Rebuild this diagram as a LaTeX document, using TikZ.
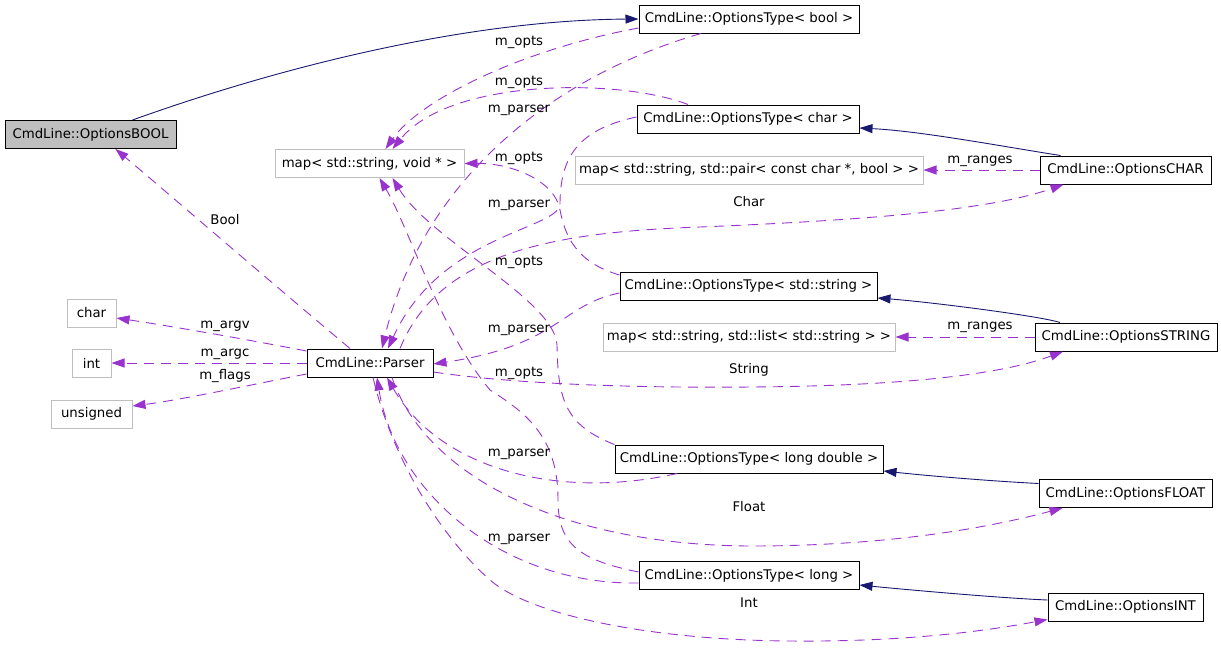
\documentclass[tikz,border=0pt]{standalone}
\usepackage{fontspec}
\setmainfont{DejaVu Sans}
\usetikzlibrary{arrows.meta,positioning}
\definecolor{inhnavy}{RGB}{25,25,112}
\definecolor{useplum}{RGB}{154,50,205}
\definecolor{extgray}{RGB}{191,191,191}
\newcommand{\dxfont}{\fontsize{13.3pt}{16pt}\selectfont}
\tikzset{
  cls/.style={draw=black,line width=1pt,inner sep=0pt,minimum height=28pt,font=\dxfont},
  ext/.style={cls,draw=extgray},
  lbl/.style={inner sep=0pt,font=\dxfont},
  inherit/.style={draw=inhnavy,line width=0.9pt,-{Triangle[length=13pt,width=9pt]}},
  uses/.style={draw=useplum,line width=0.9pt,dash pattern=on 10pt off 7pt,-{Triangle[length=13pt,width=9pt]}}
}

\begin{document}
\begin{tikzpicture}[x=1pt,y=-1pt]
\useasboundingbox (0,0) rectangle (1221,649);
\node[cls,fill=extgray,minimum width=171pt] (optbool) at (90.5,134.5) {CmdLine::OptionsBOOL};
\node[cls,minimum width=220pt] (typebool) at (749,19) {CmdLine::OptionsType< bool >};
\node[ext,minimum width=189pt] (mapvoid) at (369.5,163.5) {map< std::string, void * >};
\node[cls,minimum width=222pt] (typechar) at (748,119) {CmdLine::OptionsType< char >};
\node[ext,minimum width=348pt] (mappair) at (749,170) {map< std::string, std::pair< const char *, bool > >};
\node[cls,minimum width=171pt] (optchar) at (1125.5,170) {CmdLine::OptionsCHAR};
\node[cls,minimum width=257pt] (typestr) at (748.5,286) {CmdLine::OptionsType< std::string >};
\node[ext,minimum width=292pt] (maplist) at (749,337) {map< std::string, std::list< std::string > >};
\node[cls,minimum width=182pt] (optstr) at (1126,337) {CmdLine::OptionsSTRING};
\node[ext,minimum width=49pt] (tchar) at (91.5,313) {char};
\node[ext,minimum width=39pt] (tint) at (91.5,363) {int};
\node[ext,minimum width=81pt] (tuns) at (91.5,414) {unsigned};
\node[cls,minimum width=126pt] (parser) at (370,363) {CmdLine::Parser};
\node[cls,minimum width=268pt] (typeld) at (749,459) {CmdLine::OptionsType< long double >};
\node[cls,minimum width=173pt] (optfloat) at (1125.5,493.5) {CmdLine::OptionsFLOAT};
\node[cls,minimum width=220pt] (typelong) at (749,575.5) {CmdLine::OptionsType< long >};
\node[cls,minimum width=155pt] (optint) at (1125.5,607) {CmdLine::OptionsINT};

\draw[inherit] ([xshift=42pt]optbool.north) .. controls (300,60) and (480,20) .. (typebool.west);
\draw[inherit] ([xshift=-65pt]optchar.north) .. controls (1000,146) and (920,131) .. ([yshift=-9pt]typechar.east);
\draw[inherit] ([xshift=-66pt]optstr.north) .. controls (1040,316) and (930,302) .. ([yshift=-12pt]typestr.east);
\draw[inherit] ([yshift=10pt]optfloat.west) .. controls (990,481) and (930,476) .. ([yshift=-12pt]typeld.east);
\draw[inherit] ([yshift=7pt]optint.west) .. controls (1000,598) and (910,590) .. ([yshift=-9.5pt]typelong.east);

\draw[uses] ([xshift=-20pt]parser.north) .. controls (280,290) and (170,195) .. ([xshift=25pt]optbool.south);
\draw[uses] ([yshift=12pt]parser.west) .. controls (250,340) and (170,326) .. ([yshift=-5pt]tchar.east);
\draw[uses] (parser.west) -- (tint.east);
\draw[uses] ([yshift=-11pt]parser.west) .. controls (250,385) and (180,400) .. ([yshift=8pt]tuns.east);
\draw[uses] (optchar.west) -- (mappair.east);
\draw[uses] (optstr.west) -- (maplist.east);

\draw[uses] ([yshift=-9pt]typebool.west) .. controls (520,50) and (420,100) .. ([xshift=16pt]mapvoid.north);
\draw[uses] ([xshift=-60pt]typechar.north) .. controls (620,78) and (450,78) .. ([xshift=23pt]mapvoid.north);
\draw[uses] ([yshift=11pt]typestr.west) .. controls (575,262) and (565,235) .. (560,210) .. controls (555,180) and (510,163) .. (mapvoid.east);
\draw[uses] (typeld.north west) .. controls (565,425) and (558,400) .. (557,345) .. controls (555,300) and (430,240) .. ([xshift=23pt]mapvoid.south);
\draw[uses] ([yshift=3.5pt]typelong.west) .. controls (580,560) and (558,545) .. (558,500) .. controls (558,440) and (530,415) .. (490,390) .. controls (440,330) and (410,230) .. ([xshift=10pt]mapvoid.south);

\draw[uses] ([xshift=-48pt]typebool.south) .. controls (540,80) and (420,190) .. ([xshift=12pt]parser.north);
\draw[uses] ([yshift=2pt]typechar.west) .. controls (575,130) and (560,160) .. (560,205) .. controls (555,230) and (440,235) .. ([xshift=18pt]parser.north);
\draw[uses] ([yshift=-7pt]typestr.west) .. controls (560,305) and (560,345) .. ([yshift=-1pt]parser.east);
\draw[uses] ([xshift=-72pt]typeld.south) .. controls (560,500) and (440,470) .. ([xshift=17pt]parser.south);
\draw[uses] ([yshift=-7.5pt]typelong.west) .. controls (500,585) and (395,490) .. ([xshift=7pt]parser.south);

\draw[uses] ([xshift=30pt]parser.north) .. controls (440,250) and (560,232) .. (700,227) .. controls (870,220) and (990,210) .. ([xshift=-62pt]optchar.south);
\draw[uses] ([yshift=-9pt]parser.east) .. controls (520,385) and (650,388) .. (750,387) .. controls (900,386) and (1000,375) .. ([xshift=-63pt]optstr.south);
\draw[uses] ([xshift=22pt]parser.south) .. controls (425,475) and (560,545) .. (750,546) .. controls (880,546) and (980,530) .. ([xshift=-63pt]optfloat.south);
\draw[uses] ([xshift=3pt]parser.south) .. controls (395,470) and (450,545) .. (490,580) .. controls (530,615) and (650,640) .. (790,641) .. controls (900,642) and (980,632) .. ([yshift=2pt]optint.south west);

\node[lbl] (lboolopts) at (519,42) {m\_opts};
\node[lbl] (lcharopts) at (519,82) {m\_opts};
\node[lbl] (lboolparser) at (519,110) {m\_parser};
\node[lbl] (lstropts) at (519,158) {m\_opts};
\node[lbl] (lcharparser) at (519,205) {m\_parser};
\node[lbl] (lldopts) at (519,262) {m\_opts};
\node[lbl] (lstrparser) at (519,330) {m\_parser};
\node[lbl] (llongopts) at (519,373) {m\_opts};
\node[lbl] (lldparser) at (519,454) {m\_parser};
\node[lbl] (llongparser) at (519,539) {m\_parser};
\node[lbl] (lbool) at (225,220) {Bool};
\node[lbl] (lchar) at (749,202) {Char};
\node[lbl] (lstring) at (749,370) {String};
\node[lbl] (lfloat) at (749,507) {Float};
\node[lbl] (lint) at (749,603) {Int};
\node[lbl] (largv) at (225,326) {m\_argv};
\node[lbl] (largc) at (225,354) {m\_argc};
\node[lbl] (lflags) at (225,376) {m\_flags};
\node[lbl] (lcharranges) at (980,161) {m\_ranges};
\node[lbl] (lstrranges) at (980,327) {m\_ranges};
\end{tikzpicture}
\end{document}
